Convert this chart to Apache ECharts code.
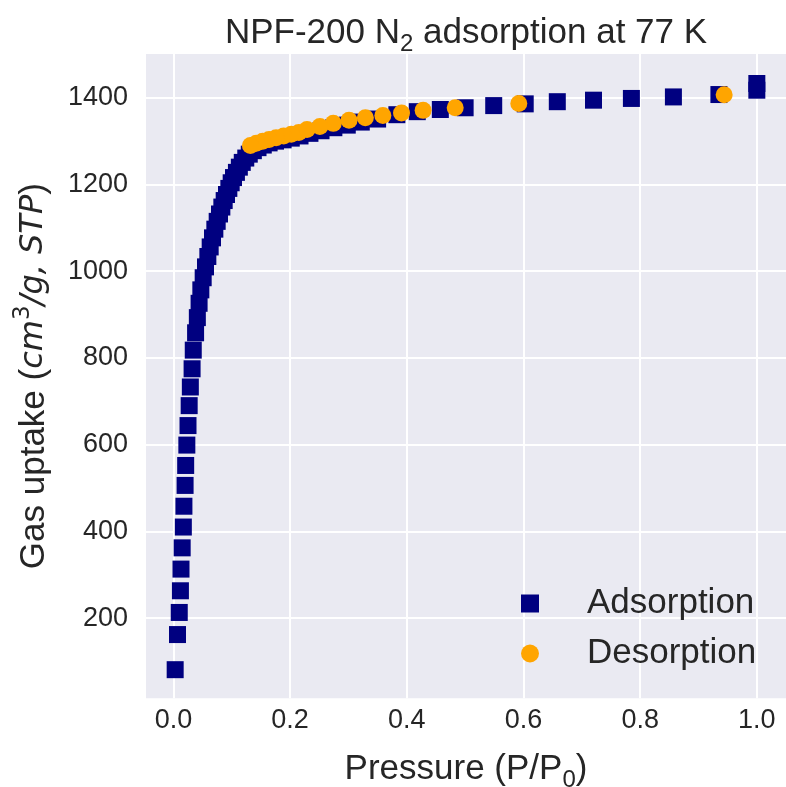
<!DOCTYPE html>
<html>
<head>
<meta charset="utf-8">
<script src="https://cdn.jsdelivr.net/npm/echarts@6/dist/echarts.min.js"></script>
<style>
html,body{margin:0;padding:0;background:#fff;}
#chart{width:786px;height:787px;}
</style>
</head>
<body>
<div id="chart"></div>
<script>
// Adsorption branch (P/P0, uptake)
var adsX = [0.003,0.007,0.010,0.012,0.013,0.015,0.017,0.018,0.020,0.021,0.023,0.025,0.027,0.029,0.032,0.034,0.038,
  0.041,0.044,0.047,0.051,0.055,0.059,0.063,0.067,0.071,0.075,0.079,0.083,0.087,0.091,0.095,0.099,0.103,0.108,0.113,0.118,0.124,0.130,0.137,0.145,0.154,0.164,0.175,
  0.188,0.202,0.217,0.234,0.253,0.275,0.298,0.322,0.350,0.383,0.418,0.4575,0.500,0.549,0.603,0.658,0.720,0.785,0.857,0.935,1.0,1.0];
var adsY = [81,162,213,263,313,362,410,458,506,552,599,644,690,733,775,818,858,
  893,926,957,985,1010,1034,1056,1077,1097,1115,1132,1148,1163,1177,1191,1204,1216,1228,1240,1251,1261,1270,1278,1285,1291,1296,1300,
  1303,1307,1312,1318,1324,1331,1337,1344,1351,1361,1368,1373,1377,1382,1386,1391,1394.5,1398.5,1402,1407.5,1417.5,1433];
// Desorption branch
var desX = [0.944,0.592,0.483,0.428,0.391,0.359,0.329,0.301,0.274,0.251,0.229,0.215,0.202,0.189,0.176,0.164,0.153,0.142,0.132];
var desY = [1407,1387,1377,1371,1365,1359,1354,1348,1341,1334,1327,1320,1316,1312,1308,1304,1300,1295,1290];
var xTicks = [0.0,0.2,0.4,0.6,0.8,1.0];
var yTicks = [200,400,600,800,1000,1200,1400];

function pairs(xs, ys){ var out=[]; for(var i=0;i<xs.length;i++){ out.push([xs[i], ys[i]]); } return out; }

var chart = echarts.init(document.getElementById('chart'), null, {renderer:'canvas'});
var txt = '#262626';
var sans = 'Liberation Sans, Arial, sans-serif';
chart.setOption({
  animation:false,
  backgroundColor:'#ffffff',
  title:{
    text:'NPF-200 N{sub|2} adsorption at 77 K',
    left:461, top:5, textAlign:'center',
    textStyle:{fontFamily:sans, fontSize:35, fontWeight:'normal', color:txt, lineHeight:46,
      rich:{sub:{fontFamily:sans, fontSize:24, color:txt, lineHeight:24, verticalAlign:'bottom'}}}
  },
  grid:{left:146, right:0, top:54, bottom:88.7, show:true, backgroundColor:'#EAEAF2', borderWidth:0,
    containLabel:false, outerBoundsMode:'none'},
  xAxis:{
    type:'value', min:-0.047, max:1.05,
    axisLine:{show:false}, axisTick:{show:false, customValues:xTicks},
    axisLabel:{customValues:xTicks, fontFamily:sans, fontSize:27, color:txt, margin:9,
      formatter:function(v){return v.toFixed(1);}},
    splitLine:{show:true, lineStyle:{color:'#ffffff', width:2}},
    name:'Pressure (P/P{sub|0})', nameLocation:'middle', nameGap:48,
    nameTextStyle:{fontFamily:sans, fontSize:35, color:txt, lineHeight:46,
      rich:{sub:{fontFamily:sans, fontSize:24, color:txt, lineHeight:24, verticalAlign:'bottom'}}}
  },
  yAxis:{
    type:'value', min:15, max:1501,
    axisLine:{show:false}, axisTick:{show:false, customValues:yTicks},
    axisLabel:{customValues:yTicks, fontFamily:sans, fontSize:27, color:txt, margin:18,
      formatter:function(v){return String(v);}},
    splitLine:{show:true, lineStyle:{color:'#ffffff', width:2}},
    name:'Gas uptake ({it|cm}{sup|3}{it|/g, STP})', nameLocation:'middle', nameGap:83, nameRotate:90,
    nameTextStyle:{fontFamily:sans, fontSize:35, color:txt, lineHeight:46,
      rich:{
        it:{fontFamily:'DejaVu Sans', fontStyle:'italic', fontSize:32, color:txt, lineHeight:46},
        sup:{fontFamily:'DejaVu Sans', fontSize:23, color:txt, lineHeight:23, verticalAlign:'top'}
      }}
  },
  legend:{
    orient:'vertical', left:516, top:581, itemWidth:18, itemHeight:18, itemGap:15,
    data:[{name:'Adsorption', icon:'rect'},{name:'Desorption', icon:'circle'}],
    textStyle:{fontFamily:sans, fontSize:35, color:txt, lineHeight:34, padding:[0,0,0,43]}
  },
  series:[
    {name:'Adsorption', type:'scatter', symbol:'rect', symbolSize:17, data:pairs(adsX, adsY),
      itemStyle:{color:'#000080', opacity:1}, z:2},
    {name:'Desorption', type:'scatter', symbol:'circle', symbolSize:17, data:pairs(desX, desY),
      itemStyle:{color:'#FFA500', opacity:1}, z:3}
  ]
});
</script>
</body>
</html>
